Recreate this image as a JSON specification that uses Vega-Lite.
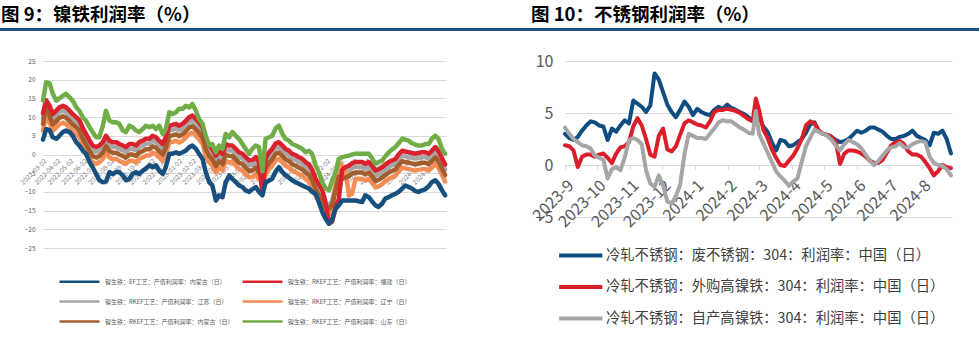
{
"$schema": "https://vega.github.io/schema/vega-lite/v6.json",
"background": "white",
"padding": {"left": 0, "top": 5, "right": 0, "bottom": 0},
"config": {"view": {"stroke": null}, "font": "Noto Sans CJK SC"},
"resolve": {"scale": {"color": "independent"}, "legend": {"color": "independent"}},
"spacing": 0,
"hconcat": [
{"spacing": 27, "vconcat": [
 {"width": 490, "height": 3, "data": {"values": []}, "mark": {"type": "point", "opacity": 0},
  "view": {"fill": "#1d5180", "stroke": null},
  "title": {"text": "图 9：镍铁利润率（%）", "anchor": "start", "fontSize": 18.5, "fontWeight": "bold", "color": "#000000", "offset": 4, "dx": 1, "font": "Noto Sans CJK SC"}},
 {"width": 490, "height": 187,
   "data": {"values": [
{"t":"2022-03-02","a":4.0,"b":11.0,"c":9.7,"d":6.5,"e":8.2,"f":14.4},
{"t":"2022-03-09","a":6.8,"b":14.5,"c":13.5,"d":10.0,"e":13.0,"f":19.3},
{"t":"2022-03-17","a":6.5,"b":13.0,"c":11.7,"d":8.5,"e":10.2,"f":19.0},
{"t":"2022-03-24","a":4.6,"b":10.8,"c":9.5,"d":6.3,"e":8.0,"f":16.2},
{"t":"2022-04-01","a":4.2,"b":11.7,"c":10.4,"d":7.2,"e":8.9,"f":14.4},
{"t":"2022-04-08","a":5.0,"b":12.6,"c":11.3,"d":8.1,"e":9.8,"f":15.0},
{"t":"2022-04-16","a":6.0,"b":13.0,"c":11.7,"d":8.5,"e":10.2,"f":15.7},
{"t":"2022-04-23","a":6.4,"b":12.6,"c":11.3,"d":8.1,"e":9.8,"f":16.2},
{"t":"2022-05-01","a":6.0,"b":11.7,"c":10.4,"d":7.2,"e":8.9,"f":15.3},
{"t":"2022-05-08","a":5.0,"b":10.8,"c":9.5,"d":6.3,"e":8.0,"f":14.4},
{"t":"2022-05-16","a":3.3,"b":10.0,"c":8.7,"d":5.5,"e":7.2,"f":12.6},
{"t":"2022-05-23","a":2.4,"b":9.2,"c":7.9,"d":4.7,"e":6.4,"f":11.7},
{"t":"2022-05-31","a":1.0,"b":7.0,"c":5.7,"d":2.5,"e":4.2,"f":9.9},
{"t":"2022-06-07","a":0.2,"b":5.5,"c":4.2,"d":1.0,"e":2.7,"f":9.0},
{"t":"2022-06-15","a":-2.0,"b":3.7,"c":2.4,"d":-0.8,"e":0.9,"f":7.3},
{"t":"2022-06-22","a":-3.4,"b":2.4,"c":1.1,"d":-2.1,"e":-0.4,"f":6.0},
{"t":"2022-06-30","a":-5.2,"b":2.0,"c":0.7,"d":-2.5,"e":-0.8,"f":4.6},
{"t":"2022-07-07","a":-6.9,"b":2.4,"c":1.1,"d":-2.1,"e":-0.4,"f":4.6},
{"t":"2022-07-15","a":-7.4,"b":3.3,"c":2.0,"d":-1.2,"e":0.5,"f":7.7},
{"t":"2022-07-22","a":-7.2,"b":5.0,"c":3.7,"d":0.5,"e":2.2,"f":11.7},
{"t":"2022-07-30","a":-4.7,"b":3.7,"c":2.4,"d":-0.8,"e":0.9,"f":9.0},
{"t":"2022-08-06","a":-5.2,"b":3.3,"c":2.0,"d":-1.2,"e":0.5,"f":8.6},
{"t":"2022-08-14","a":-4.7,"b":3.3,"c":2.0,"d":-1.2,"e":0.5,"f":8.6},
{"t":"2022-08-21","a":-4.7,"b":2.8,"c":1.5,"d":-1.7,"e":0.0,"f":8.2},
{"t":"2022-08-29","a":-5.6,"b":2.4,"c":1.1,"d":-2.1,"e":-0.4,"f":6.4},
{"t":"2022-09-05","a":-6.9,"b":2.0,"c":0.7,"d":-2.5,"e":-0.8,"f":6.0},
{"t":"2022-09-13","a":-6.5,"b":2.8,"c":1.5,"d":-1.7,"e":0.0,"f":7.7},
{"t":"2022-09-20","a":-5.2,"b":2.8,"c":1.5,"d":-1.7,"e":0.0,"f":7.3},
{"t":"2022-09-28","a":-4.7,"b":2.4,"c":1.1,"d":-2.1,"e":-0.4,"f":6.4},
{"t":"2022-10-05","a":-5.2,"b":3.3,"c":2.0,"d":-1.2,"e":0.5,"f":6.0},
{"t":"2022-10-13","a":-4.3,"b":3.7,"c":2.4,"d":-0.8,"e":0.9,"f":6.8},
{"t":"2022-10-20","a":-3.8,"b":4.2,"c":2.9,"d":-0.3,"e":1.4,"f":7.7},
{"t":"2022-10-28","a":-2.9,"b":4.2,"c":2.9,"d":-0.3,"e":1.4,"f":7.3},
{"t":"2022-11-04","a":-3.4,"b":5.0,"c":3.7,"d":0.5,"e":2.2,"f":7.7},
{"t":"2022-11-12","a":-2.9,"b":4.6,"c":3.3,"d":0.1,"e":1.8,"f":6.8},
{"t":"2022-11-19","a":-4.3,"b":3.7,"c":2.4,"d":-0.8,"e":0.9,"f":7.7},
{"t":"2022-11-27","a":-5.2,"b":2.8,"c":1.5,"d":-1.7,"e":0.0,"f":5.5},
{"t":"2022-12-04","a":-3.4,"b":4.6,"c":3.3,"d":0.1,"e":1.8,"f":6.8},
{"t":"2022-12-12","a":0.2,"b":7.7,"c":6.4,"d":3.2,"e":4.9,"f":11.3},
{"t":"2022-12-19","a":0.2,"b":7.9,"c":6.6,"d":3.4,"e":5.1,"f":10.8},
{"t":"2022-12-27","a":0.6,"b":8.2,"c":6.9,"d":3.7,"e":5.4,"f":11.3},
{"t":"2023-01-03","a":0.2,"b":7.7,"c":6.4,"d":3.2,"e":4.9,"f":12.2},
{"t":"2023-01-11","a":0.6,"b":8.2,"c":6.9,"d":3.7,"e":5.4,"f":12.2},
{"t":"2023-01-18","a":1.0,"b":9.0,"c":7.7,"d":4.5,"e":6.2,"f":13.0},
{"t":"2023-01-26","a":2.0,"b":10.0,"c":8.7,"d":5.5,"e":7.2,"f":12.6},
{"t":"2023-02-02","a":2.4,"b":10.4,"c":9.1,"d":5.9,"e":7.6,"f":13.5},
{"t":"2023-02-10","a":1.5,"b":9.5,"c":8.2,"d":5.0,"e":6.7,"f":11.7},
{"t":"2023-02-17","a":0.2,"b":8.6,"c":7.3,"d":4.1,"e":5.8,"f":9.5},
{"t":"2023-02-25","a":-1.2,"b":7.3,"c":6.0,"d":2.8,"e":4.5,"f":8.2},
{"t":"2023-03-04","a":-4.7,"b":4.2,"c":2.9,"d":-0.3,"e":1.4,"f":5.0},
{"t":"2023-03-12","a":-7.4,"b":2.4,"c":1.1,"d":-2.1,"e":-0.4,"f":2.4},
{"t":"2023-03-19","a":-8.3,"b":1.5,"c":0.2,"d":-3.0,"e":-1.3,"f":2.8},
{"t":"2023-03-27","a":-12.3,"b":-0.3,"c":-1.6,"d":-4.8,"e":-3.1,"f":0.6},
{"t":"2023-04-03","a":-10.9,"b":1.0,"c":-0.3,"d":-3.5,"e":-1.8,"f":2.4},
{"t":"2023-04-11","a":-11.4,"b":0.2,"c":-1.1,"d":-4.3,"e":-2.6,"f":1.5},
{"t":"2023-04-18","a":-7.4,"b":2.8,"c":1.5,"d":-1.7,"e":0.0,"f":5.5},
{"t":"2023-04-26","a":-5.6,"b":2.4,"c":1.1,"d":-2.1,"e":-0.4,"f":4.6},
{"t":"2023-05-03","a":-6.5,"b":2.4,"c":1.1,"d":-2.1,"e":-0.4,"f":6.0},
{"t":"2023-05-11","a":-7.4,"b":1.5,"c":0.2,"d":-3.0,"e":-1.3,"f":5.0},
{"t":"2023-05-18","a":-8.3,"b":0.6,"c":-0.7,"d":-3.9,"e":-2.2,"f":4.2},
{"t":"2023-05-26","a":-8.7,"b":0.2,"c":-1.1,"d":-4.3,"e":-2.6,"f":2.8},
{"t":"2023-06-02","a":-9.6,"b":-0.7,"c":-2.0,"d":-5.2,"e":-3.5,"f":1.5},
{"t":"2023-06-10","a":-10.0,"b":-1.6,"c":-2.9,"d":-6.1,"e":-4.4,"f":0.2},
{"t":"2023-06-17","a":-9.3,"b":-1.5,"c":-2.8,"d":-6.0,"e":-4.3,"f":1.5},
{"t":"2023-06-25","a":-8.7,"b":-0.7,"c":-2.0,"d":-5.2,"e":-3.5,"f":2.4},
{"t":"2023-07-02","a":-10.0,"b":-2.0,"c":-3.3,"d":-6.5,"e":-4.8,"f":2.0},
{"t":"2023-07-10","a":-10.9,"b":-10.5,"c":-4.0,"d":-7.2,"e":-5.5,"f":-4.5},
{"t":"2023-07-17","a":-7.4,"b":-1.0,"c":-2.3,"d":-5.5,"e":-3.8,"f":4.2},
{"t":"2023-07-25","a":-7.0,"b":0.6,"c":-0.7,"d":-3.9,"e":-2.2,"f":4.6},
{"t":"2023-08-01","a":-6.5,"b":1.5,"c":0.2,"d":-3.0,"e":-1.3,"f":5.0},
{"t":"2023-08-09","a":-4.5,"b":3.0,"c":1.7,"d":-1.5,"e":0.2,"f":7.0},
{"t":"2023-08-16","a":-3.4,"b":3.3,"c":2.0,"d":-1.2,"e":0.5,"f":7.7},
{"t":"2023-08-24","a":-4.7,"b":2.4,"c":1.1,"d":-2.1,"e":-0.4,"f":5.5},
{"t":"2023-08-31","a":-5.6,"b":1.5,"c":0.2,"d":-3.0,"e":-1.3,"f":4.2},
{"t":"2023-09-08","a":-6.2,"b":1.0,"c":-0.3,"d":-3.5,"e":-1.8,"f":3.7},
{"t":"2023-09-15","a":-6.9,"b":0.2,"c":-1.1,"d":-4.3,"e":-2.6,"f":2.8},
{"t":"2023-09-23","a":-7.4,"b":-0.2,"c":-1.5,"d":-4.7,"e":-3.0,"f":2.4},
{"t":"2023-09-30","a":-7.8,"b":-0.7,"c":-2.0,"d":-5.2,"e":-3.5,"f":2.0},
{"t":"2023-10-08","a":-8.3,"b":-1.2,"c":-2.5,"d":-5.7,"e":-4.0,"f":1.5},
{"t":"2023-10-15","a":-8.7,"b":-2.0,"c":-3.3,"d":-6.5,"e":-4.8,"f":0.6},
{"t":"2023-10-23","a":-9.1,"b":-2.7,"c":-4.0,"d":-7.2,"e":-5.5,"f":1.0},
{"t":"2023-10-30","a":-10.0,"b":-4.0,"c":-5.3,"d":-8.5,"e":-6.8,"f":0.2},
{"t":"2023-11-07","a":-10.5,"b":-6.5,"c":-7.8,"d":-11.0,"e":-9.3,"f":-2.9},
{"t":"2023-11-14","a":-12.7,"b":-8.0,"c":-9.3,"d":-12.5,"e":-10.8,"f":-4.7},
{"t":"2023-11-22","a":-15.4,"b":-9.5,"c":-10.8,"d":-14.0,"e":-12.3,"f":-7.4},
{"t":"2023-11-29","a":-17.1,"b":-12.5,"c":-13.8,"d":-15.5,"e":-14.0,"f":-9.0},
{"t":"2023-12-07","a":-18.5,"b":-18.5,"c":-13.5,"d":-16.0,"e":-14.5,"f":-9.6},
{"t":"2023-12-14","a":-17.5,"b":-18.0,"c":-12.5,"d":-15.0,"e":-13.5,"f":-7.0},
{"t":"2023-12-22","a":-14.5,"b":-14.0,"c":-8.0,"d":-8.0,"e":-9.5,"f":-4.7},
{"t":"2023-12-29","a":-13.6,"b":-12.0,"c":-4.5,"d":-2.0,"e":-6.0,"f":-1.2},
{"t":"2024-01-06","a":-12.3,"b":-4.0,"c":-5.0,"d":-3.0,"e":-6.5,"f":-0.7},
{"t":"2024-01-13","a":-12.3,"b":-3.4,"c":-4.7,"d":-4.0,"e":-6.2,"f":-0.5},
{"t":"2024-01-21","a":-12.3,"b":-3.0,"c":-4.3,"d":-11.0,"e":-5.8,"f":-0.3},
{"t":"2024-01-28","a":-12.3,"b":-2.3,"c":-3.6,"d":-10.5,"e":-5.1,"f":0.0},
{"t":"2024-02-05","a":-12.3,"b":-2.0,"c":-3.3,"d":-6.5,"e":-4.8,"f":0.2},
{"t":"2024-02-12","a":-12.5,"b":-2.0,"c":-3.3,"d":-6.5,"e":-4.8,"f":0.2},
{"t":"2024-02-20","a":-12.7,"b":-2.0,"c":-3.3,"d":-6.5,"e":-4.8,"f":0.2},
{"t":"2024-02-27","a":-10.9,"b":-2.5,"c":-3.8,"d":-7.0,"e":-5.3,"f":0.2},
{"t":"2024-03-06","a":-11.4,"b":-2.0,"c":-3.3,"d":-6.5,"e":-4.8,"f":0.2},
{"t":"2024-03-13","a":-12.5,"b":-3.0,"c":-4.3,"d":-7.5,"e":-5.8,"f":-1.0},
{"t":"2024-03-21","a":-13.6,"b":-4.3,"c":-5.6,"d":-8.8,"e":-7.1,"f":-2.5},
{"t":"2024-03-28","a":-14.0,"b":-4.0,"c":-5.3,"d":-8.5,"e":-6.8,"f":-2.0},
{"t":"2024-04-05","a":-13.1,"b":-3.4,"c":-4.7,"d":-7.9,"e":-6.2,"f":-1.6},
{"t":"2024-04-12","a":-11.8,"b":-2.7,"c":-4.0,"d":-7.2,"e":-5.5,"f":-0.5},
{"t":"2024-04-20","a":-11.4,"b":-2.0,"c":-3.3,"d":-6.5,"e":-4.8,"f":0.6},
{"t":"2024-04-27","a":-10.9,"b":-1.6,"c":-2.9,"d":-6.1,"e":-4.4,"f":1.3},
{"t":"2024-05-05","a":-10.5,"b":-1.2,"c":-2.5,"d":-5.7,"e":-4.0,"f":2.0},
{"t":"2024-05-12","a":-10.0,"b":0.0,"c":-1.3,"d":-4.5,"e":-2.8,"f":3.0},
{"t":"2024-05-20","a":-9.1,"b":1.0,"c":-0.3,"d":-3.5,"e":-1.8,"f":4.2},
{"t":"2024-05-27","a":-8.3,"b":0.8,"c":-0.5,"d":-3.7,"e":-2.0,"f":4.0},
{"t":"2024-06-04","a":-8.7,"b":0.6,"c":-0.7,"d":-3.9,"e":-2.2,"f":3.7},
{"t":"2024-06-11","a":-9.1,"b":0.4,"c":-0.9,"d":-4.1,"e":-2.4,"f":3.0},
{"t":"2024-06-19","a":-9.8,"b":0.2,"c":-1.1,"d":-4.3,"e":-2.6,"f":2.6},
{"t":"2024-06-26","a":-10.0,"b":0.4,"c":-0.9,"d":-4.1,"e":-2.4,"f":2.4},
{"t":"2024-07-04","a":-9.6,"b":0.6,"c":-0.7,"d":-3.9,"e":-2.2,"f":2.4},
{"t":"2024-07-11","a":-9.3,"b":0.6,"c":-0.7,"d":-3.9,"e":-2.2,"f":2.8},
{"t":"2024-07-19","a":-8.5,"b":0.2,"c":-1.1,"d":-4.3,"e":-2.6,"f":2.8},
{"t":"2024-07-26","a":-7.4,"b":1.0,"c":-0.3,"d":-3.5,"e":-1.8,"f":4.2},
{"t":"2024-08-03","a":-6.9,"b":2.0,"c":0.7,"d":-2.5,"e":-0.8,"f":5.0},
{"t":"2024-08-10","a":-7.8,"b":1.0,"c":-0.3,"d":-3.5,"e":-1.8,"f":4.2},
{"t":"2024-08-18","a":-9.6,"b":-1.0,"c":-2.3,"d":-5.5,"e":-3.8,"f":1.5},
{"t":"2024-08-25","a":-10.9,"b":-2.7,"c":-4.0,"d":-7.2,"e":-5.5,"f":0.2}
   ]},
   "transform": [{"fold": ["c", "d", "e", "b", "f", "a"], "as": ["s", "v"]}],
   "mark": {"type": "line", "strokeWidth": 4.5, "strokeJoin": "round", "strokeCap": "round"},
   "encoding": {
    "x": {"field": "t", "type": "temporal",
     "scale": {"domain": [{"year": 2022, "month": 3, "date": 2}, {"year": 2024, "month": 8, "date": 27}], "range": [43, 446]},
     "axis": {"title": null, "offset": -93.5, "format": "%Y-%m-%d", "labelAngle": -45, "labelFontSize": 6.5, "labelColor": "#7f7f7f", "labelOverlap": false, "labelBound": false, "labelFlush": false, "labelPadding": 3, "grid": false, "domain": false, "ticks": false,
      "values": [{"year":2022,"month":3,"date":2},{"year":2022,"month":4,"date":2},{"year":2022,"month":5,"date":2},{"year":2022,"month":6,"date":2},{"year":2022,"month":7,"date":2},{"year":2022,"month":8,"date":2},{"year":2022,"month":9,"date":2},{"year":2022,"month":10,"date":2},{"year":2022,"month":11,"date":2},{"year":2022,"month":12,"date":2},{"year":2023,"month":1,"date":2},{"year":2023,"month":2,"date":2},{"year":2023,"month":3,"date":2},{"year":2023,"month":4,"date":2},{"year":2023,"month":5,"date":2},{"year":2023,"month":6,"date":2},{"year":2023,"month":7,"date":2},{"year":2023,"month":8,"date":2},{"year":2023,"month":9,"date":2},{"year":2023,"month":10,"date":2},{"year":2023,"month":11,"date":2},{"year":2023,"month":12,"date":2},{"year":2024,"month":1,"date":2},{"year":2024,"month":2,"date":2},{"year":2024,"month":3,"date":2},{"year":2024,"month":4,"date":2},{"year":2024,"month":5,"date":2},{"year":2024,"month":6,"date":2},{"year":2024,"month":7,"date":2},{"year":2024,"month":8,"date":2}]}},
    "y": {"field": "v", "type": "quantitative",
     "scale": {"domain": [-25, 25], "nice": false},
     "axis": {"title": null, "offset": -43, "values": [-25, -20, -15, -10, -5, 0, 5, 10, 15, 20, 25], "labelFontSize": 6.5, "labelColor": "#595959", "labelPadding": 8, "domain": false, "ticks": false, "gridColor": "#d9d9d9", "gridWidth": 1.2}},
    "color": {"field": "s", "type": "nominal",
     "scale": {"domain": ["a", "b", "c", "d", "e", "f"], "range": ["#174f7f", "#d9222b", "#a6a6a6", "#f48d55", "#a35e2e", "#70ad47"]},
     "legend": {"orient": "none", "legendX": 58, "legendY": 247, "columns": 2, "direction": "horizontal", "title": null, "padding": 0,
      "symbolType": "M-1,0H7", "symbolSize": 100, "symbolStrokeWidth": 2.5, "labelFontSize": 6, "labelColor": "#595959", "labelOffset": 34, "rowPadding": 8, "columnPadding": 3, "labelLimit": 400,
      "labelExpr": "datum.label == 'a' ? '镍生铁：EF工艺：产值利润率：内蒙古（日）' : datum.label == 'b' ? '镍生铁：RKEF工艺：产值利润率：福建（日）' : datum.label == 'c' ? '镍生铁：RKEF工艺：产值利润率：江苏（日）' : datum.label == 'd' ? '镍生铁：RKEF工艺：产值利润率：辽宁（日）' : datum.label == 'e' ? '镍生铁：RKEF工艺：产值利润率：内蒙古（日）' : '镍生铁：RKEF工艺：产值利润率：山东（日）'"}}
   }}
]},
{"spacing": 22, "vconcat": [
 {"width": 489, "height": 3, "data": {"values": []}, "mark": {"type": "point", "opacity": 0},
  "view": {"fill": "#1d5180", "stroke": null},
  "title": {"text": "图 10：不锈钢利润率（%）", "anchor": "start", "fontSize": 18.5, "fontWeight": "bold", "color": "#000000", "offset": 4, "dx": 41, "font": "Noto Sans CJK SC"}},
 {"width": 489, "height": 156,
   "data": {"values": [
{"t":"2023-09-01","p":3.0,"q":1.9,"r":3.6},
{"t":"2023-09-05","p":2.6,"q":1.8,"r":3.0},
{"t":"2023-09-09","p":2.4,"q":1.4,"r":2.5},
{"t":"2023-09-13","p":2.7,"q":-0.2,"r":2.2},
{"t":"2023-09-17","p":3.3,"q":0.8,"r":1.9},
{"t":"2023-09-21","p":3.8,"q":1.0,"r":1.8},
{"t":"2023-09-25","p":4.2,"q":1.0,"r":1.6},
{"t":"2023-09-29","p":4.1,"q":0.8,"r":0.9},
{"t":"2023-10-03","p":3.8,"q":1.0,"r":0.7},
{"t":"2023-10-07","p":3.7,"q":1.1,"r":0.5},
{"t":"2023-10-11","p":2.4,"q":0.7,"r":-1.3},
{"t":"2023-10-15","p":3.5,"q":0.2,"r":-0.4},
{"t":"2023-10-19","p":3.2,"q":1.1,"r":-0.2},
{"t":"2023-10-23","p":3.8,"q":1.7,"r":-0.5},
{"t":"2023-10-27","p":4.3,"q":1.8,"r":0.7},
{"t":"2023-10-31","p":4.0,"q":2.2,"r":2.4},
{"t":"2023-11-04","p":6.2,"q":3.7,"r":2.6},
{"t":"2023-11-08","p":5.9,"q":4.5,"r":2.4},
{"t":"2023-11-12","p":5.6,"q":3.8,"r":2.0},
{"t":"2023-11-16","p":5.1,"q":2.5,"r":-0.5},
{"t":"2023-11-20","p":5.7,"q":1.0,"r":-1.8},
{"t":"2023-11-24","p":8.8,"q":0.8,"r":-2.1},
{"t":"2023-11-28","p":8.2,"q":2.8,"r":-1.0},
{"t":"2023-12-02","p":7.0,"q":3.5,"r":-2.0},
{"t":"2023-12-06","p":5.8,"q":1.5,"r":-3.5},
{"t":"2023-12-10","p":5.1,"q":1.3,"r":-3.7},
{"t":"2023-12-14","p":4.6,"q":1.8,"r":-3.0},
{"t":"2023-12-18","p":5.3,"q":2.9,"r":-1.9},
{"t":"2023-12-22","p":6.1,"q":4.0,"r":1.0},
{"t":"2023-12-26","p":5.6,"q":4.3,"r":3.0},
{"t":"2023-12-30","p":4.8,"q":4.1,"r":2.8},
{"t":"2024-01-03","p":5.4,"q":3.9,"r":2.6},
{"t":"2024-01-07","p":5.1,"q":3.8,"r":2.6},
{"t":"2024-01-11","p":4.9,"q":3.6,"r":2.5},
{"t":"2024-01-15","p":4.8,"q":4.2,"r":3.0},
{"t":"2024-01-19","p":5.3,"q":5.1,"r":3.5},
{"t":"2024-01-23","p":5.6,"q":5.3,"r":4.1},
{"t":"2024-01-27","p":5.4,"q":5.3,"r":4.3},
{"t":"2024-01-31","p":5.8,"q":5.4,"r":4.2},
{"t":"2024-02-04","p":5.5,"q":5.3,"r":4.2},
{"t":"2024-02-08","p":5.3,"q":5.2,"r":3.9},
{"t":"2024-02-12","p":5.1,"q":5.0,"r":3.6},
{"t":"2024-02-16","p":4.9,"q":4.7,"r":3.4},
{"t":"2024-02-20","p":4.6,"q":4.4,"r":3.1},
{"t":"2024-02-24","p":4.2,"q":4.2,"r":3.0},
{"t":"2024-02-27","p":5.2,"q":6.4,"r":5.2},
{"t":"2024-03-01","p":4.6,"q":5.3,"r":3.0},
{"t":"2024-03-05","p":3.7,"q":3.4,"r":2.1},
{"t":"2024-03-09","p":3.2,"q":2.6,"r":1.2},
{"t":"2024-03-13","p":2.2,"q":1.5,"r":0.3},
{"t":"2024-03-17","p":1.4,"q":0.7,"r":-0.6},
{"t":"2024-03-21","p":2.4,"q":0.0,"r":-1.1},
{"t":"2024-03-25","p":2.3,"q":-0.1,"r":-1.5},
{"t":"2024-03-29","p":1.8,"q":0.4,"r":-2.0},
{"t":"2024-04-02","p":1.9,"q":0.9,"r":-1.6},
{"t":"2024-04-06","p":2.2,"q":1.6,"r":-1.3},
{"t":"2024-04-10","p":2.5,"q":2.5,"r":0.3},
{"t":"2024-04-14","p":3.1,"q":3.8,"r":1.8},
{"t":"2024-04-18","p":3.9,"q":4.2,"r":2.6},
{"t":"2024-04-22","p":4.1,"q":4.0,"r":3.4},
{"t":"2024-04-26","p":3.3,"q":3.3,"r":3.2},
{"t":"2024-04-30","p":3.0,"q":3.0,"r":3.0},
{"t":"2024-05-04","p":2.9,"q":2.9,"r":2.8},
{"t":"2024-05-08","p":2.7,"q":2.7,"r":2.4},
{"t":"2024-05-12","p":2.4,"q":2.2,"r":1.9},
{"t":"2024-05-16","p":2.2,"q":0.1,"r":1.4},
{"t":"2024-05-20","p":2.3,"q":1.1,"r":2.0},
{"t":"2024-05-24","p":2.5,"q":1.4,"r":2.4},
{"t":"2024-05-28","p":2.9,"q":1.4,"r":2.2},
{"t":"2024-06-01","p":3.3,"q":1.3,"r":2.0},
{"t":"2024-06-05","p":3.1,"q":1.1,"r":1.6},
{"t":"2024-06-09","p":3.3,"q":0.8,"r":1.0},
{"t":"2024-06-13","p":3.6,"q":0.4,"r":0.4},
{"t":"2024-06-17","p":3.6,"q":0.2,"r":0.0},
{"t":"2024-06-21","p":3.4,"q":0.2,"r":0.4},
{"t":"2024-06-25","p":3.2,"q":0.5,"r":0.9},
{"t":"2024-06-29","p":2.8,"q":1.2,"r":1.4},
{"t":"2024-07-03","p":2.5,"q":1.9,"r":1.7},
{"t":"2024-07-07","p":2.5,"q":2.2,"r":1.8},
{"t":"2024-07-11","p":2.7,"q":2.3,"r":2.1},
{"t":"2024-07-15","p":2.8,"q":2.0,"r":1.7},
{"t":"2024-07-19","p":3.0,"q":1.3,"r":1.7},
{"t":"2024-07-23","p":3.3,"q":1.0,"r":2.0},
{"t":"2024-07-27","p":2.8,"q":1.0,"r":2.2},
{"t":"2024-07-31","p":2.6,"q":0.8,"r":2.3},
{"t":"2024-08-04","p":2.4,"q":0.3,"r":2.2},
{"t":"2024-08-08","p":1.9,"q":-0.3,"r":0.8},
{"t":"2024-08-12","p":3.1,"q":-1.0,"r":0.2},
{"t":"2024-08-16","p":3.0,"q":-0.6,"r":0.0},
{"t":"2024-08-20","p":3.3,"q":0.0,"r":-0.1},
{"t":"2024-08-24","p":2.5,"q":-0.2,"r":-0.4},
{"t":"2024-08-28","p":1.1,"q":-0.3,"r":-1.0}
   ]},
   "transform": [{"fold": ["p", "q", "r"], "as": ["s", "v"]}],
   "mark": {"type": "line", "strokeWidth": 4, "strokeJoin": "round", "strokeCap": "round"},
   "encoding": {
    "x": {"field": "t", "type": "temporal",
     "scale": {"domain": [{"year": 2023, "month": 9, "date": 1}, {"year": 2024, "month": 8, "date": 29}], "range": [75, 462]},
     "axis": {"title": null, "offset": -52, "format": "%Y-%-m", "labelAngle": -45, "labelFontSize": 16, "labelColor": "#595959", "labelOverlap": false, "labelBound": false, "labelFlush": false, "labelPadding": 8, "grid": false, "domain": true, "domainColor": "#d9d9d9", "ticks": true, "tickColor": "#d9d9d9", "tickSize": 4,
      "values": [{"year":2023,"month":9,"date":1},{"year":2023,"month":10,"date":1},{"year":2023,"month":11,"date":1},{"year":2023,"month":12,"date":1},{"year":2024,"month":1,"date":1},{"year":2024,"month":2,"date":1},{"year":2024,"month":3,"date":1},{"year":2024,"month":4,"date":1},{"year":2024,"month":5,"date":1},{"year":2024,"month":6,"date":1},{"year":2024,"month":7,"date":1},{"year":2024,"month":8,"date":1}]}},
    "y": {"field": "v", "type": "quantitative",
     "scale": {"domain": [-5, 10], "nice": false},
     "axis": {"title": null, "offset": -75, "values": [-5, 0, 5, 10], "labelFontSize": 16, "labelColor": "#595959", "labelPadding": 12, "domain": false, "ticks": false, "gridColor": "#d9d9d9", "gridWidth": 1.2}},
    "color": {"field": "s", "type": "nominal",
     "scale": {"domain": ["p", "q", "r"], "range": ["#0f4d80", "#da1f2b", "#a6a6a6"]},
     "legend": {"orient": "none", "legendX": 67, "legendY": 220, "direction": "vertical", "title": null, "padding": 0,
      "symbolType": "M-1,0H7", "symbolSize": 117, "symbolStrokeWidth": 4, "labelFontSize": 14.3, "labelColor": "#404040", "labelOffset": 34, "rowPadding": 14.5, "labelLimit": 500,
      "labelExpr": "datum.label == 'p' ? '冷轧不锈钢：废不锈钢：304：利润率：中国（日）' : datum.label == 'q' ? '冷轧不锈钢：外购高镍铁：304：利润率：中国（日）' : '冷轧不锈钢：自产高镍铁：304：利润率：中国（日）'"}}
   }}
]}
]
}
